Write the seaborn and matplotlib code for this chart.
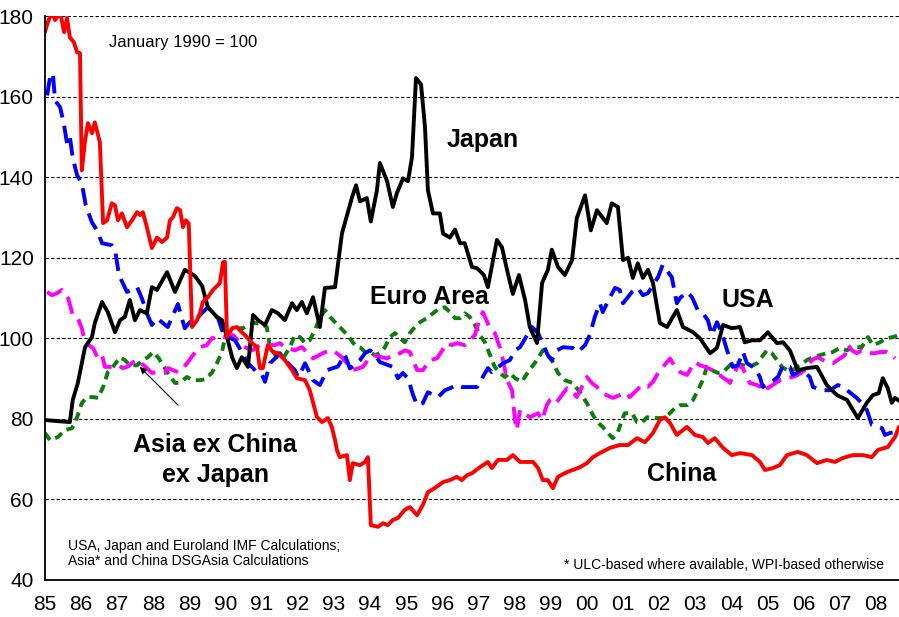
import matplotlib
matplotlib.use("Agg")
import matplotlib.pyplot as plt
import seaborn as sns

jp_yr = [1985.00, 1985.69, 1985.77, 1985.91, 1986.11, 1986.30, 1986.38, 1986.58, 1986.74, 1986.94,
         1987.08, 1987.21, 1987.35, 1987.49, 1987.63, 1987.82, 1987.96, 1988.10, 1988.38, 1988.60,
         1988.87, 1989.15, 1989.35, 1989.51, 1989.76, 1989.90, 1990.04, 1990.18, 1990.31, 1990.45,
         1990.62, 1990.76, 1990.90, 1991.09, 1991.28, 1991.45, 1991.64, 1991.84, 1991.97, 1992.11,
         1992.25, 1992.42, 1992.61, 1992.75, 1993.03, 1993.22, 1993.50, 1993.61, 1993.72, 1993.91,
         1994.02, 1994.19, 1994.27, 1994.47, 1994.63, 1994.74, 1994.91, 1995.05, 1995.16, 1995.27,
         1995.41, 1995.52, 1995.60, 1995.74, 1995.93, 1996.02, 1996.21, 1996.35, 1996.49, 1996.62,
         1996.82, 1996.96, 1997.15, 1997.26, 1997.51, 1997.65, 1997.79, 1997.95, 1998.12, 1998.29,
         1998.42, 1998.62, 1998.76, 1998.92, 1999.03, 1999.20, 1999.39, 1999.59, 1999.72, 1999.95,
         2000.11, 2000.28, 2000.55, 2000.69, 2000.86, 2001.00, 2001.14, 2001.27, 2001.41, 2001.55,
         2001.69, 2001.83, 2002.02, 2002.22, 2002.49, 2002.66, 2002.94, 2003.13, 2003.41, 2003.60,
         2003.77, 2004.01, 2004.24, 2004.37, 2004.57, 2004.79, 2005.01, 2005.26, 2005.43, 2005.62,
         2005.84, 2006.09, 2006.37, 2006.64, 2006.92, 2007.20, 2007.50, 2007.75, 2007.92, 2008.08,
         2008.19, 2008.33, 2008.44, 2008.53, 2008.64]
jp_val = [79.7, 79.2, 84.7, 88.9, 97.8, 100.3, 103.8, 109.0, 106.5, 101.5,
          104.5, 105.3, 109.5, 104.5, 107.0, 106.2, 112.7, 112.0, 116.4, 111.5,
          117.0, 115.5, 113.0, 107.7, 105.3, 104.5, 100.3, 95.3, 92.6, 95.3,
          92.9, 105.8, 104.5, 103.3, 107.0, 106.2, 104.5, 108.7, 107.0, 109.0,
          106.2, 110.2, 102.8, 112.5, 112.7, 126.0, 135.0, 138.0, 134.0, 134.8,
          129.0, 136.8, 143.5, 139.0, 132.6, 136.0, 139.7, 139.0, 145.0, 164.6,
          163.0, 152.4, 136.8, 131.0, 131.0, 126.0, 125.0, 127.0, 123.6, 123.6,
          117.7, 117.4, 115.7, 112.7, 124.4, 122.6, 117.0, 111.0, 115.7, 109.5,
          102.8, 98.8, 113.7, 117.0, 122.0, 117.7, 115.7, 119.4, 129.8, 135.5,
          126.8, 131.8, 128.6, 133.5, 132.6, 119.4, 120.0, 115.0, 118.6, 115.0,
          117.0, 113.7, 103.8, 102.8, 107.0, 102.8, 101.5, 100.0, 96.3, 97.6,
          103.3, 102.5, 102.8, 99.0, 99.5, 99.5, 101.5, 98.8, 99.0, 97.0,
          92.0, 92.6, 92.9, 88.4, 85.9, 84.7, 80.2, 84.0, 85.9, 86.4,
          90.1, 87.6, 84.0, 85.2, 84.5]

cn_yr = [1985.00, 1985.08, 1985.19, 1985.28, 1985.42, 1985.53, 1985.61, 1985.69, 1985.80, 1985.89,
         1985.97, 1986.02, 1986.11, 1986.19, 1986.30, 1986.38, 1986.52, 1986.61, 1986.72, 1986.85,
         1986.94, 1987.02, 1987.13, 1987.27, 1987.41, 1987.55, 1987.63, 1987.71, 1987.82, 1987.96,
         1988.10, 1988.24, 1988.38, 1988.46, 1988.54, 1988.65, 1988.74, 1988.82, 1988.90, 1988.98,
         1989.07, 1989.21, 1989.29, 1989.37, 1989.51, 1989.65, 1989.84, 1989.93, 1989.98, 1990.04,
         1990.18, 1990.31, 1990.45, 1990.59, 1990.73, 1990.87, 1990.95, 1991.03, 1991.17, 1991.31,
         1991.45, 1991.64, 1991.84, 1991.97, 1992.20, 1992.33, 1992.53, 1992.67, 1992.83, 1992.94,
         1993.03, 1993.08, 1993.16, 1993.36, 1993.44, 1993.52, 1993.72, 1993.86, 1993.94, 1994.02,
         1994.22, 1994.36, 1994.49, 1994.63, 1994.77, 1994.96, 1995.10, 1995.30, 1995.46, 1995.60,
         1995.79, 1996.02, 1996.21, 1996.40, 1996.54, 1996.68, 1996.82, 1997.04, 1997.26, 1997.37,
         1997.54, 1997.79, 1997.95, 1998.15, 1998.51, 1998.65, 1998.78, 1998.92, 1999.06, 1999.20,
         1999.45, 1999.61, 1999.81, 2000.00, 2000.17, 2000.36, 2000.64, 2000.91, 2001.14, 2001.39,
         2001.61, 2001.83, 2002.02, 2002.16, 2002.30, 2002.49, 2002.77, 2002.99, 2003.21, 2003.35,
         2003.54, 2003.77, 2004.01, 2004.24, 2004.57, 2004.79, 2004.93, 2005.15, 2005.34, 2005.54,
         2005.84, 2006.09, 2006.37, 2006.64, 2006.87, 2007.09, 2007.36, 2007.64, 2007.89, 2008.06,
         2008.33, 2008.53, 2008.64]
cn_val = [176.0, 178.5, 181.0, 179.0, 181.0, 176.0, 179.5, 174.7, 173.5, 171.0,
          170.8, 141.7, 149.0, 153.4, 150.9, 153.6, 148.7, 128.6, 129.3, 133.5,
          133.0, 129.3, 131.0, 127.6, 129.3, 131.3, 130.6, 131.3, 127.6, 122.4,
          125.0, 123.9, 125.0, 129.3, 130.0, 132.3, 131.8, 127.6, 129.3, 128.5,
          102.8, 104.5, 106.2, 109.0, 110.2, 112.0, 113.7, 118.9, 119.0, 100.3,
          102.5, 102.8, 101.5, 100.3, 98.8, 97.8, 92.6, 92.6, 98.3, 96.6,
          96.3, 94.6, 92.1, 90.1, 89.6, 87.1, 80.4, 79.2, 80.2, 78.0,
          74.7, 72.3, 70.5, 71.0, 64.8, 69.0, 68.5, 69.3, 70.5, 53.6,
          53.2, 54.1, 53.6, 54.9, 55.4, 57.4, 58.1, 56.1, 58.6, 61.8,
          62.8, 64.3, 64.8, 65.6, 64.8, 66.0, 66.5, 68.0, 69.3, 67.8,
          69.8, 69.8, 71.0, 69.3, 69.3, 67.8, 64.8, 64.8, 62.8, 65.6,
          66.8, 67.3, 68.0, 69.0, 70.5, 71.5, 72.8, 73.5, 73.5, 75.2,
          74.2, 76.5, 79.7, 80.4, 79.0, 76.0, 78.0, 76.0, 75.5, 74.0,
          75.2, 72.8, 71.0, 71.5, 71.0, 69.3, 67.3, 67.8, 68.5, 71.0,
          71.8, 71.0, 69.0, 69.8, 69.3, 70.3, 71.0, 71.0, 70.5, 72.3,
          73.0, 75.5, 78.0]

us_yr = [1985.06, 1985.14, 1985.22, 1985.28, 1985.42, 1985.53, 1985.61, 1985.69, 1985.77, 1985.89,
         1986.02, 1986.13, 1986.30, 1986.44, 1986.58, 1986.85, 1986.94, 1987.05, 1987.27, 1987.55,
         1987.68, 1987.82, 1987.96, 1988.10, 1988.40, 1988.68, 1988.87, 1989.01, 1989.21, 1989.37,
         1989.51, 1989.65, 1989.79, 1989.93, 1990.07, 1990.26, 1990.45, 1990.62, 1990.76, 1990.87,
         1991.01, 1991.09, 1991.23, 1991.37, 1991.50, 1991.59, 1991.78, 1991.92, 1992.00, 1992.11,
         1992.20, 1992.42, 1992.61, 1992.81, 1993.11, 1993.30, 1993.44, 1993.72, 1993.86, 1994.00,
         1994.13, 1994.27, 1994.63, 1994.77, 1994.91, 1995.05, 1995.19, 1995.30, 1995.46, 1995.60,
         1995.88, 1996.07, 1996.21, 1996.40, 1996.54, 1996.96, 1997.12, 1997.26, 1997.37, 1997.68,
         1997.87, 1998.01, 1998.15, 1998.48, 1998.65, 1998.92, 1999.03, 1999.17, 1999.34, 1999.61,
         1999.75, 1999.95, 2000.08, 2000.22, 2000.36, 2000.44, 2000.64, 2000.78, 2000.91, 2001.00,
         2001.25, 2001.41, 2001.55, 2001.69, 2001.97, 2002.10, 2002.35, 2002.49, 2002.58, 2002.77,
         2002.91, 2003.07, 2003.21, 2003.35, 2003.46, 2003.60, 2003.74, 2003.88, 2004.04, 2004.18,
         2004.32, 2004.43, 2004.65, 2004.79, 2004.87, 2005.07, 2005.29, 2005.43, 2005.62, 2005.70,
         2005.95, 2006.17, 2006.26, 2006.53, 2006.73, 2006.95, 2007.09, 2007.47, 2007.61, 2007.75,
         2007.89, 2008.17, 2008.25, 2008.39, 2008.53, 2008.64]
us_val = [160.3, 164.8, 165.8, 159.0, 157.4, 152.9, 148.4, 150.0, 144.7, 140.5,
          138.5, 133.0, 128.8, 126.8, 123.6, 123.1, 121.9, 115.7, 111.5, 112.7,
          110.0, 106.2, 103.3, 105.0, 102.8, 108.5, 102.5, 104.0, 105.0, 106.5,
          107.7, 106.2, 105.0, 101.3, 100.3, 99.5, 96.6, 93.8, 92.6, 91.4,
          90.9, 89.2, 93.8, 95.0, 96.3, 95.3, 93.3, 92.1, 90.4, 92.1,
          93.8, 89.6, 88.4, 92.1, 93.0, 96.0, 92.5, 94.6, 96.3, 97.0,
          96.0, 94.1, 92.9, 90.1, 91.4, 90.0, 85.9, 83.4, 83.9, 86.6,
          85.4, 87.1, 87.6, 88.4, 87.9, 87.9, 90.4, 92.6, 91.6, 93.8,
          94.6, 97.0, 97.8, 102.8, 101.3, 95.8, 94.6, 97.0, 97.8, 97.6,
          96.6, 98.3, 100.8, 105.3, 108.7, 106.5, 110.2, 112.5, 112.0, 108.7,
          111.5, 112.5, 110.7, 111.2, 115.2, 118.2, 115.2, 108.7, 110.0, 111.5,
          110.2, 107.0, 106.2, 104.5, 100.8, 104.0, 101.3, 97.0, 92.9, 93.3,
          96.6, 93.8, 92.6, 90.4, 87.9, 88.9, 90.4, 93.3, 92.9, 90.9,
          92.1, 90.4, 87.9, 87.1, 87.1, 88.4, 87.9, 85.2, 83.9, 82.2,
          78.5, 77.7, 76.0, 76.5, 76.7, 77.5]

eu_yr = [1985.00, 1985.14, 1985.36, 1985.55, 1985.75, 1985.89, 1986.02, 1986.16, 1986.33, 1986.47,
         1986.61, 1986.74, 1986.88, 1987.08, 1987.21, 1987.35, 1987.55, 1987.71, 1987.85, 1987.99,
         1988.13, 1988.27, 1988.40, 1988.60, 1988.74, 1988.93, 1989.10, 1989.29, 1989.43, 1989.62,
         1989.76, 1989.90, 1989.98, 1990.07, 1990.20, 1990.34, 1990.48, 1990.62, 1990.81, 1991.01,
         1991.14, 1991.23, 1991.42, 1991.59, 1991.78, 1991.92, 1992.06, 1992.20, 1992.33, 1992.47,
         1992.61, 1992.75, 1992.89, 1993.03, 1993.16, 1993.30, 1993.44, 1993.58, 1993.72, 1993.86,
         1994.00, 1994.13, 1994.27, 1994.41, 1994.55, 1994.69, 1994.83, 1994.96, 1995.10, 1995.24,
         1995.38, 1995.57, 1995.74, 1995.93, 1996.07, 1996.21, 1996.35, 1996.49, 1996.62, 1996.76,
         1996.90, 1997.04, 1997.18, 1997.32, 1997.45, 1997.59, 1997.73, 1997.87, 1998.01, 1998.20,
         1998.37, 1998.62, 1998.78, 1999.03, 1999.20, 1999.39, 1999.61, 1999.81, 2000.00, 2000.17,
         2000.31, 2000.44, 2000.58, 2000.72, 2000.86, 2000.97, 2001.05, 2001.25, 2001.39, 2001.52,
         2001.66, 2001.83, 2002.08, 2002.24, 2002.44, 2002.58, 2002.77, 2002.94, 2003.07, 2003.21,
         2003.32, 2003.46, 2003.63, 2003.77, 2003.96, 2004.15, 2004.32, 2004.51, 2004.71, 2004.84,
         2004.98, 2005.12, 2005.26, 2005.40, 2005.54, 2005.70, 2005.90, 2006.09, 2006.26, 2006.45,
         2006.64, 2006.81, 2007.00, 2007.20, 2007.36, 2007.61, 2007.78, 2007.92, 2008.11, 2008.30,
         2008.47, 2008.64]
eu_val = [76.5, 74.7, 75.5, 77.2, 77.7, 80.4, 83.9, 85.4, 85.4, 85.2,
          87.9, 91.6, 92.9, 95.3, 94.6, 93.3, 93.3, 94.6, 95.3, 96.6,
          95.3, 93.3, 91.4, 88.9, 89.0, 90.4, 89.6, 89.6, 89.8, 91.4,
          93.8, 96.6, 100.0, 101.3, 102.0, 102.5, 102.5, 103.3, 103.8, 103.5,
          102.8, 97.8, 95.3, 95.0, 97.8, 100.8, 100.3, 98.8, 99.5, 102.0,
          105.0, 107.0, 105.3, 104.0, 102.8, 101.5, 100.0, 98.3, 97.8, 96.6,
          96.6, 95.8, 96.3, 97.8, 100.3, 101.3, 100.0, 99.0, 101.3, 102.8,
          104.0, 105.0, 106.2, 107.5, 107.7, 106.5, 105.0, 105.0, 106.2, 105.3,
          103.3, 100.8, 99.0, 95.8, 92.9, 91.4, 90.4, 91.4, 90.1, 89.2,
          91.6, 94.6, 97.0, 94.6, 91.4, 89.6, 88.9, 86.6, 83.9, 80.9,
          79.0, 78.0, 76.5, 75.2, 76.7, 79.7, 81.4, 81.4, 79.2, 79.0,
          80.4, 80.2, 80.2, 80.9, 82.7, 83.4, 83.4, 84.7, 87.1, 89.6,
          92.9, 92.1, 91.4, 91.6, 93.3, 93.8, 93.3, 92.9, 93.8, 95.3,
          97.0, 96.3, 94.6, 92.9, 92.1, 92.1, 93.3, 94.6, 95.3, 95.8,
          96.3, 96.6, 97.6, 97.0, 97.8, 97.8, 100.3, 98.3, 99.0, 100.0,
          100.3, 100.8]

as_yr = [1985.06, 1985.19, 1985.33, 1985.47, 1985.64, 1985.77, 1985.91, 1986.02, 1986.11, 1986.33,
         1986.47, 1986.58, 1986.66, 1986.88, 1987.02, 1987.16, 1987.30, 1987.44, 1987.57, 1987.82,
         1987.96, 1988.13, 1988.32, 1988.40, 1988.68, 1988.82, 1988.96, 1989.07, 1989.29, 1989.48,
         1989.62, 1989.84, 1989.98, 1990.20, 1990.34, 1990.54, 1990.73, 1990.87, 1991.01, 1991.14,
         1991.37, 1991.50, 1991.64, 1991.92, 1992.11, 1992.28, 1992.42, 1992.69, 1992.89, 1993.03,
         1993.22, 1993.36, 1993.52, 1993.80, 1993.94, 1994.08, 1994.47, 1994.63, 1994.83, 1994.96,
         1995.10, 1995.30, 1995.46, 1995.66, 1995.85, 1996.13, 1996.26, 1996.40, 1996.62, 1996.90,
         1997.04, 1997.12, 1997.32, 1997.45, 1997.59, 1997.68, 1997.79, 1997.93, 1998.01, 1998.06,
         1998.15, 1998.42, 1998.56, 1998.65, 1998.76, 1998.89, 1998.98, 1999.06, 1999.17, 1999.45,
         1999.59, 1999.72, 2000.00, 2000.14, 2000.28, 2000.42, 2000.72, 2000.91, 2001.05, 2001.19,
         2001.52, 2001.69, 2001.83, 2001.97, 2002.30, 2002.44, 2002.58, 2002.77, 2002.99, 2003.13,
         2003.27, 2003.35, 2003.60, 2003.74, 2003.88, 2003.96, 2004.18, 2004.32, 2004.43, 2004.51,
         2004.71, 2004.79, 2004.93, 2005.01, 2005.34, 2005.54, 2005.70, 2005.84, 2006.03, 2006.23,
         2006.39, 2006.64, 2006.81, 2007.14, 2007.23, 2007.34, 2007.47, 2007.61, 2007.75, 2007.97,
         2008.11, 2008.30, 2008.44, 2008.53]
as_val = [111.5, 110.7, 111.2, 112.0, 110.0, 105.8, 105.0, 102.5, 98.8, 97.6,
          95.0, 95.8, 92.9, 92.9, 93.3, 92.6, 93.0, 94.1, 94.6, 92.6,
          91.4, 91.6, 91.4, 92.6, 91.6, 92.6, 94.1, 95.5, 97.8, 98.3,
          100.0, 100.3, 100.3, 100.8, 99.5, 97.8, 97.0, 97.8, 98.8, 98.3,
          98.3, 98.8, 97.8, 97.0, 97.8, 96.3, 95.0, 96.3, 97.0, 96.6,
          95.3, 93.8, 92.1, 92.9, 94.6, 95.8, 95.0, 95.8, 96.3, 97.0,
          96.6, 92.1, 92.1, 94.6, 95.0, 98.8, 98.3, 98.8, 98.3, 100.8,
          105.0, 106.5, 102.5, 101.3, 97.8, 94.6, 89.6, 87.1, 79.7, 77.2,
          82.2, 80.4, 81.0, 81.4, 79.7, 83.4, 84.7, 85.2, 84.2, 87.6,
          87.1, 85.4, 90.4, 88.9, 87.9, 86.4, 85.2, 85.9, 86.6, 85.4,
          88.4, 88.0, 89.2, 91.4, 95.0, 92.9, 91.6, 90.9, 94.1, 93.3,
          92.9, 92.6, 91.6, 90.4, 89.6, 88.9, 93.3, 92.6, 90.4, 88.9,
          88.4, 88.0, 89.2, 87.6, 89.6, 90.1, 90.4, 90.9, 92.1, 94.6,
          95.3, 94.1, 93.8, 95.8, 98.3, 97.0, 96.3, 97.0, 96.3, 96.3,
          96.6, 96.6, 95.8, 95.0]

years = list(range(1985, 2009))
year_labels = ["%02d" % (y % 100) for y in years]
y_ticks = [40, 60, 80, 100, 120, 140, 160, 180]

sns.set_style("white")
plt.rcParams['font.family'] = ['Liberation Sans', 'DejaVu Sans']
plt.rcParams['text.color'] = 'black'
plt.rcParams['xtick.color'] = 'black'
plt.rcParams['ytick.color'] = 'black'

fig = plt.figure(figsize=(8.99, 6.17), dpi=100)
ax = fig.add_axes([0.050, 0.060, 0.950, 0.914])

lw = 2.8
sns.lineplot(x=eu_yr, y=eu_val, ax=ax, color="#0a7d0a", linewidth=lw,
             linestyle=(0, (2.2, 1.5)), sort=False, estimator=None)
sns.lineplot(x=as_yr, y=as_val, ax=ax, color="#ff00ff", linewidth=lw,
             linestyle=(0, (4.5, 2.2)), sort=False, estimator=None)
sns.lineplot(x=us_yr, y=us_val, ax=ax, color="#0000ff", linewidth=lw,
             linestyle=(0, (4.5, 2.2)), sort=False, estimator=None)
sns.lineplot(x=jp_yr, y=jp_val, ax=ax, color="black", linewidth=lw,
             sort=False, estimator=None)
sns.lineplot(x=cn_yr, y=cn_val, ax=ax, color="#ff0000", linewidth=lw,
             sort=False, estimator=None)

ax.set_xlim(1985, 2008.64)
ax.set_ylim(40, 180)
ax.set_xticks(years)
ax.set_xticklabels(year_labels)
ax.set_yticks(y_ticks)
ax.set_xlabel("")
ax.set_ylabel("")

ax.yaxis.grid(True, linestyle=(0, (3, 2)), color="black", linewidth=0.8)
ax.xaxis.grid(False)
ax.set_axisbelow(True)

for side in ["top", "right"]:
    ax.spines[side].set_visible(False)
for side in ["left", "bottom"]:
    ax.spines[side].set_color("black")
    ax.spines[side].set_linewidth(1.3)

ax.tick_params(axis="both", direction="out", length=4, width=1, color="black",
               labelsize=15, labelcolor="black")
ax.tick_params(axis="x", pad=7)
ax.tick_params(axis="y", pad=4)

# labels on the chart
ax.text(1986.77, 173.5, "January 1990 = 100", fontsize=12, ha="left", va="center", color="black")
ax.text(1997.12, 149.2, "Japan", fontsize=18, fontweight="bold", ha="center", va="center", color="black")
ax.text(1995.63, 110.2, "Euro Area", fontsize=18, fontweight="bold", ha="center", va="center", color="black")
ax.text(2004.46, 109.5, "USA", fontsize=18, fontweight="bold", ha="center", va="center", color="black")
ax.text(2002.63, 66.3, "China", fontsize=18, fontweight="bold", ha="center", va="center", color="black")
ax.text(1989.71, 69.8, "Asia ex China\nex Japan", fontsize=18, fontweight="bold",
        ha="center", va="center", linespacing=1.3, color="black")
ax.annotate("", xy=(1987.57, 93.4), xytext=(1988.74, 82.9),
            arrowprops=dict(arrowstyle="-|>", color="black", lw=0.8, mutation_scale=10))

ax.text(1985.64, 46.6, "USA, Japan and Euroland IMF Calculations;\nAsia* and China DSGAsia Calculations",
        fontsize=10, ha="left", va="center", linespacing=1.15, color="black")
ax.text(2008.22, 43.7, "* ULC-based where available, WPI-based otherwise",
        fontsize=10, ha="right", va="center", color="black")

fig.savefig("out.png", dpi=100)
